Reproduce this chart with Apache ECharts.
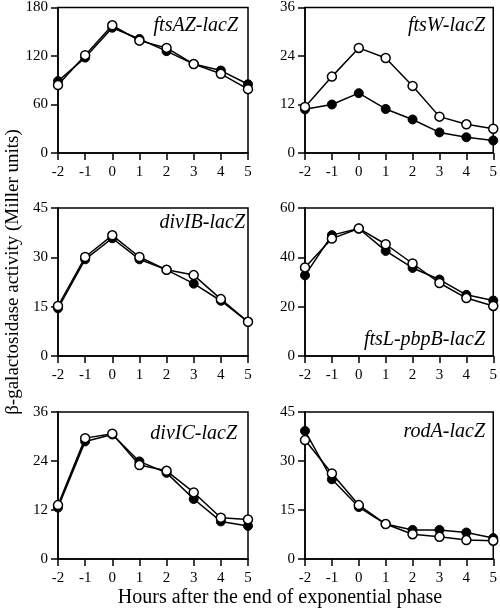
<!DOCTYPE html>
<html>
<head>
<meta charset="utf-8">
<script src="https://cdn.jsdelivr.net/npm/echarts@6/dist/echarts.min.js"></script>
<style>html,body{margin:0;padding:0;background:#fff}#c{width:500px;height:611px}</style>
</head>
<body>
<div id="c"></div>
<script>
var hours = [-2, -1, 0, 1, 2, 3, 4, 5];

var panelNames = ['ftsAZ-lacZ', 'ftsW-lacZ', 'divIB-lacZ', 'ftsL-pbpB-lacZ', 'divIC-lacZ', 'rodA-lacZ'];
var yMax = [180, 36, 45, 60, 36, 45];

var ftsAZ_filled = [89, 118, 155, 141, 126, 110, 102, 85];
var ftsAZ_open   = [84, 121, 158, 139, 130, 110, 98, 79];
var ftsW_filled  = [10.8, 12.0, 14.8, 10.9, 8.3, 5.1, 3.9, 3.1];
var ftsW_open    = [11.4, 18.9, 26.0, 23.5, 16.6, 9.0, 7.1, 6.0];
var divIB_filled = [14.5, 29.4, 35.8, 29.4, 26.2, 22.0, 16.8, 10.4];
var divIB_open   = [15.2, 30.1, 36.7, 30.1, 26.2, 24.6, 17.3, 10.4];
var ftsL_filled  = [32.7, 49.0, 51.7, 42.6, 35.7, 31.0, 24.8, 22.5];
var ftsL_open    = [35.9, 47.6, 51.7, 45.3, 37.5, 29.6, 23.5, 20.3];
var divIC_filled = [12.6, 28.8, 30.5, 23.9, 21.1, 14.7, 9.2, 8.1];
var divIC_open   = [13.2, 29.6, 30.7, 23.0, 21.6, 16.3, 10.1, 9.7];
var rodA_filled  = [39.2, 24.4, 15.9, 10.7, 8.9, 8.9, 8.1, 6.4];
var rodA_open    = [36.4, 26.2, 16.5, 10.7, 7.6, 6.8, 5.8, 5.6];

var filledSets = [ftsAZ_filled, ftsW_filled, divIB_filled, ftsL_filled, divIC_filled, rodA_filled];
var openSets   = [ftsAZ_open, ftsW_open, divIB_open, ftsL_open, divIC_open, rodA_open];

var FONT = "'Liberation Serif','Times New Roman',serif";

var gridPos = [
  {left: 58, top: 6, width: 190, height: 147},
  {left: 305, top: 6, width: 189, height: 147},
  {left: 58, top: 208, width: 190, height: 148},
  {left: 305, top: 208, width: 189, height: 148},
  {left: 58, top: 412, width: 190, height: 147},
  {left: 305, top: 412, width: 189, height: 147}
];
var labelPos = [
  {x: 238, y: 26}, {x: 485, y: 26},
  {x: 245, y: 223}, {x: 485, y: 340},
  {x: 237, y: 434}, {x: 485, y: 432}
];

function pairs(vals) { return hours.map(function (h, i) { return [h, vals[i]]; }); }

var grids = [], xAxes = [], yAxes = [], series = [], graphics = [];
for (var i = 0; i < 6; i++) {
  grids.push(Object.assign({show: true, borderColor: '#000', borderWidth: 1.5, backgroundColor: 'transparent'}, gridPos[i]));
  xAxes.push({
    type: 'value', gridIndex: i, min: -2, max: 5, interval: 1,
    axisLine: {show: true, onZero: false, lineStyle: {color: '#000', width: 1.5}},
    axisTick: {show: true, inside: false, length: 7, lineStyle: {color: '#000', width: 1.5}},
    axisLabel: {color: '#000', fontFamily: FONT, fontSize: 15, margin: 12},
    splitLine: {show: false}
  });
  yAxes.push({
    type: 'value', gridIndex: i, min: 0, max: yMax[i], interval: yMax[i] / 3,
    axisLine: {show: true, onZero: false, lineStyle: {color: '#000', width: 1.5}},
    axisTick: {show: true, inside: false, length: 7, lineStyle: {color: '#000', width: 1.5}},
    axisLabel: {color: '#000', fontFamily: FONT, fontSize: 15, margin: 10},
    splitLine: {show: false}
  });
  series.push({
    type: 'line', xAxisIndex: i, yAxisIndex: i, data: pairs(filledSets[i]),
    symbol: 'circle', symbolSize: 9, z: 2,
    lineStyle: {color: '#000', width: 1.5},
    itemStyle: {color: '#000', borderColor: '#000', borderWidth: 1},
    animation: false
  });
  series.push({
    type: 'line', xAxisIndex: i, yAxisIndex: i, data: pairs(openSets[i]),
    symbol: 'circle', symbolSize: 9, z: 3,
    lineStyle: {color: '#000', width: 1.5},
    itemStyle: {color: '#fff', borderColor: '#000', borderWidth: 1.5},
    animation: false
  });
  graphics.push({
    type: 'text', x: labelPos[i].x, y: labelPos[i].y,
    style: {text: panelNames[i], fill: '#000', font: 'italic 20px ' + FONT, textAlign: 'right', textVerticalAlign: 'middle'}
  });
}
graphics.push({
  type: 'text', x: 13, y: 272, rotation: Math.PI / 2,
  style: {text: 'β-galactosidase activity (Miller units)', fill: '#000', font: '19px ' + FONT, textAlign: 'center', textVerticalAlign: 'middle'}
});
graphics.push({
  type: 'text', x: 280, y: 598,
  style: {text: 'Hours after the end of exponential phase', fill: '#000', font: '20px ' + FONT, textAlign: 'center', textVerticalAlign: 'middle'}
});

var chart = echarts.init(document.getElementById('c'), null, {renderer: 'canvas'});
chart.setOption({
  animation: false,
  backgroundColor: '#fff',
  grid: grids, xAxis: xAxes, yAxis: yAxes, series: series, graphic: graphics
});
</script>
</body>
</html>
